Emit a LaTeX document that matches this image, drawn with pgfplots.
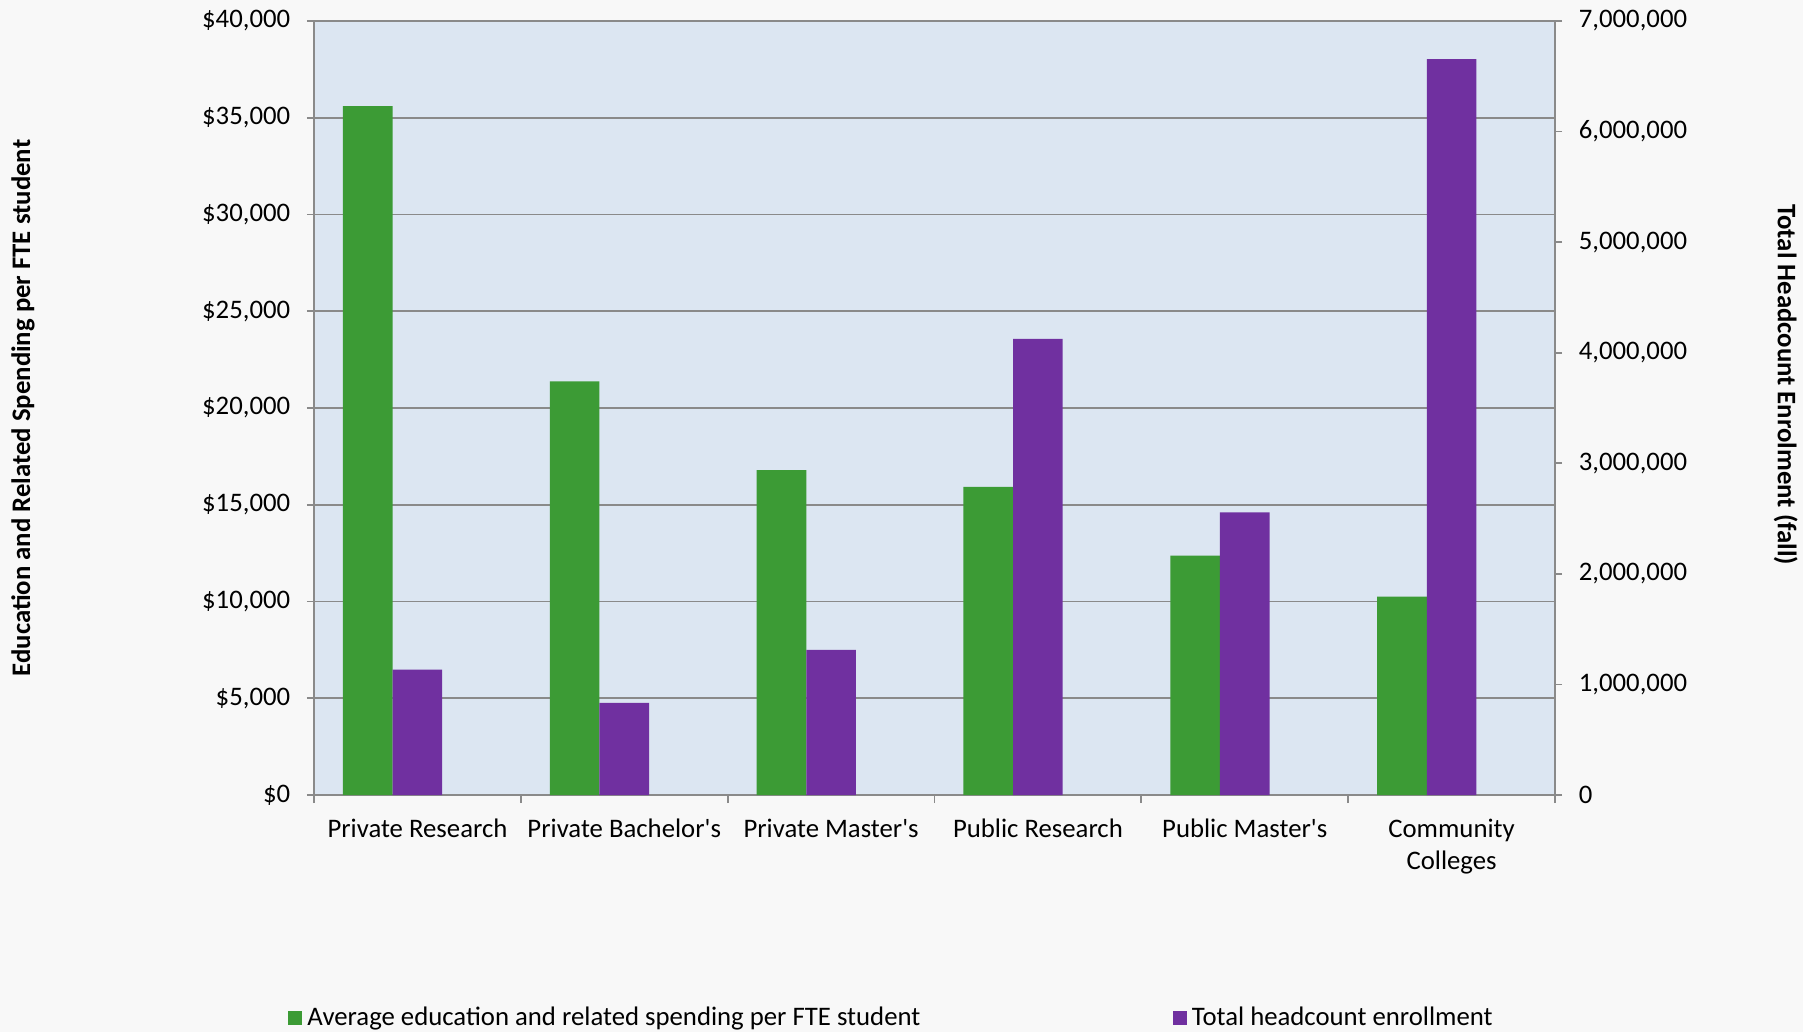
\documentclass[border=0pt]{standalone}
\usepackage{pgfplots}
\pgfplotsset{compat=1.18}
\usepackage{fontspec}
\setmainfont{Carlito}
\definecolor{bg}{HTML}{F8F8F8}
\definecolor{plotbg}{HTML}{DCE6F2}
\definecolor{grn}{HTML}{3C9B35}
\definecolor{prp}{HTML}{7030A0}
\definecolor{gridc}{HTML}{8A8A8A}
\newcommand\fs{\fontsize{10.7}{12.8}\selectfont}
\begin{document}
\begin{tikzpicture}
\fill[bg] (-125.6pt,-94.8pt) rectangle (595.6pt,318pt);
\useasboundingbox (-125.6pt,-94.8pt) rectangle (595.6pt,318pt);
\begin{axis}[
  at={(0,0)}, anchor=south west,
  scale only axis, width=496.4pt, height=309.6pt,
  xmin=-0.5, xmax=5.5, ymin=0, ymax=40000,
  axis x line*=bottom, axis y line*=left,
  axis line style={gridc, line width=0.7pt, -},
  axis background/.style={fill=plotbg},
  ytick={0,5000,10000,15000,20000,25000,30000,35000,40000},
  ymajorgrids, grid style={gridc, line width=0.7pt},
  yticklabel={\$\pgfmathprintnumber{\tick}},
  /pgf/number format/.cd, fixed, precision=0, 1000 sep={,}, assume math mode=true,
  /pgfplots/.cd,
  scaled y ticks=false,
  xtick={0,1,2,3,4,5},
  xticklabels={Private Research, Private Bachelor\textquotesingle s, Private Master\textquotesingle s, Public Research, Public Master\textquotesingle s, {Community\\Colleges}},
  xticklabel style={align=center, yshift=-3.2pt},
  yticklabel style={xshift=-3.2pt},
  major x tick style={draw=none},
  minor xtick={-0.5,0.5,1.5,2.5,3.5,4.5,5.5},
  tick align=outside, major tick length=2.8pt, minor tick length=3.2pt,
  tick style={gridc, line width=0.7pt},
  every tick label/.append style={font=\fs, text=black},
  ylabel={\bfseries Education and Related Spending per FTE student},
  ylabel style={at={(axis description cs:-0.2345,0.5)}, anchor=center, font=\fs},
  legend image code/.code={\fill[#1] (0pt,-2.8pt) rectangle (5.6pt,2.8pt);},
  legend style={at={(axis description cs:-0.027,-0.288)}, anchor=west, draw=none, fill=none,
    font=\fs, legend columns=2, /tikz/every even column/.append style={column sep=99pt}},
]
\addplot[ybar, bar width=0.24, bar shift=-0.24, fill=grn, draw=none, forget plot]
  coordinates {(0,35600) (1,21370) (2,16790) (3,15930) (4,12370) (5,10250)};
\addlegendimage{fill=grn, draw=none}
\addlegendentry{Average education and related spending per FTE student}
\addlegendimage{fill=prp, draw=none}
\addlegendentry{Total headcount enrollment}
\end{axis}
\begin{axis}[
  at={(0,0)}, anchor=south west,
  scale only axis, width=496.4pt, height=309.6pt,
  xmin=-0.5, xmax=5.5, ymin=0, ymax=7000000,
  axis y line*=right, axis x line=none,
  axis line style={gridc, line width=0.7pt, -},
  ytick={0,1000000,2000000,3000000,4000000,5000000,6000000,7000000},
  /pgf/number format/.cd, fixed, precision=0, 1000 sep={,}, assume math mode=true,
  /pgfplots/.cd,
  scaled y ticks=false,
  yticklabel style={xshift=3.2pt},
  tick align=outside, major tick length=2.8pt,
  tick style={gridc, line width=0.7pt},
  every tick label/.append style={font=\fs, text=black},
  ylabel={\bfseries Total Headcount Enrolment (fall)},
  ylabel style={at={(axis description cs:1.186,0.53)}, anchor=center, rotate=180, font=\fs},
]
\addplot[ybar, bar width=0.24, bar shift=0, fill=prp, draw=none, forget plot]
  coordinates {(0,1135000) (1,833000) (2,1312000) (3,4125000) (4,2555000) (5,6656000)};
\end{axis}
\end{tikzpicture}
\end{document}
